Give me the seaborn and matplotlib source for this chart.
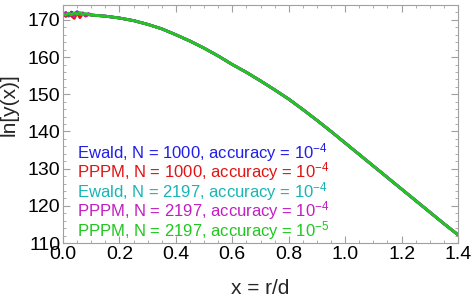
import numpy as np
import pandas as pd
import matplotlib
matplotlib.use("Agg")
import matplotlib.pyplot as plt
from matplotlib.ticker import MultipleLocator
import seaborn as sns

# noisy start of each run (x <= 0.1)
x_head = [0.00, 0.01, 0.02, 0.03, 0.04, 0.05, 0.06, 0.07, 0.08, 0.09, 0.10]
ewald_1000_head = [171.2, 171.9, 171.0, 172.1, 171.4, 172.2, 171.3, 171.8, 171.2, 171.6, 171.3]
pppm_1000_head = [171.8, 170.9, 171.6, 171.1, 170.4, 171.9, 170.6, 171.7, 171.0, 171.4, 171.3]
ewald_2197_head = [171.4, 171.7, 171.2, 171.8, 171.5, 171.9, 171.4, 171.6, 171.3, 171.5, 171.3]
pppm_2197_head = [171.0, 172.0, 171.3, 171.9, 170.9, 172.1, 171.5, 171.9, 171.1, 171.7, 171.3]
pppm_2197_5_head = [171.6, 171.3, 171.8, 171.4, 171.9, 171.5, 172.0, 171.4, 171.7, 171.5, 171.3]

# shared smooth part (all runs coincide here)
x_tail = [0.15, 0.20, 0.25, 0.30, 0.35, 0.40, 0.45, 0.50, 0.55, 0.60, 0.65,
          0.70, 0.75, 0.80, 0.85, 0.90, 0.95, 1.00, 1.05, 1.10, 1.15, 1.20,
          1.25, 1.30, 1.35, 1.40]
y_tail = [171.0, 170.5, 169.8, 168.8, 167.6, 166.0, 164.3, 162.4, 160.3, 158.0,
          155.9, 153.6, 151.2, 148.7, 145.9, 143.0, 140.0, 136.9, 133.8, 130.7,
          127.6, 124.5, 121.4, 118.3, 115.2, 112.2]

labels = [
    "Ewald, N = 1000, accuracy = $10^{-4}$",
    "PPPM, N = 1000, accuracy = $10^{-4}$",
    "Ewald, N = 2197, accuracy = $10^{-4}$",
    "PPPM, N = 2197, accuracy = $10^{-4}$",
    "PPPM, N = 2197, accuracy = $10^{-5}$",
]
colors = ["#1f1fe6", "#e01414", "#1ab4b4", "#c21ec2", "#1ec81e"]
heads = [ewald_1000_head, pppm_1000_head, ewald_2197_head, pppm_2197_head, pppm_2197_5_head]

rows = []
for lab, head in zip(labels, heads):
    for xv, yv in zip(x_head + x_tail, head + y_tail):
        rows.append({"x": xv, "y": yv, "run": lab})
df = pd.DataFrame(rows)

sns.set_theme(style="ticks")
plt.rcParams["font.family"] = ["Liberation Sans", "DejaVu Sans"]
plt.rcParams["mathtext.default"] = "regular"

fig = plt.figure(figsize=(4.71, 2.97), dpi=100)
ax = fig.add_axes([63 / 471, 1 - 243 / 297, 395 / 471, 238 / 297])

sns.lineplot(data=df, x="x", y="y", hue="run", palette=colors, hue_order=labels,
             sort=False, estimator=None, linewidth=2.0, ax=ax)

ax.set_xlim(0, 1.4)
ax.set_ylim(110, 174)
ax.xaxis.set_major_locator(MultipleLocator(0.2))
ax.xaxis.set_minor_locator(MultipleLocator(0.05))
ax.yaxis.set_major_locator(MultipleLocator(10))
ax.yaxis.set_minor_locator(MultipleLocator(2))
ax.xaxis.set_major_formatter(plt.FuncFormatter(lambda v, p: f"{v:.1f}"))

frame = "#a0a0a0"
for s in ax.spines.values():
    s.set_color(frame)
    s.set_linewidth(0.8)
ax.tick_params(which="both", direction="in", top=True, right=True, color=frame,
               labelsize=14, labelcolor="black")
ax.tick_params(which="major", length=5, width=0.8, pad=2)
ax.tick_params(which="minor", length=2.5, width=0.6)

ax.set_xlabel("x = r/d", fontsize=15)
ax.xaxis.set_label_coords(0.5, -0.15)
ax.set_ylabel("ln[y(x)]", fontsize=15)
ax.yaxis.set_label_coords(-0.112, 0.58)

handles, labs = ax.get_legend_handles_labels()
ax.legend(handles, labs, loc="lower left", bbox_to_anchor=(0.035, 0.005),
          frameon=False, handlelength=0, handletextpad=0, borderpad=0,
          borderaxespad=0, labelspacing=-0.2, fontsize=12, labelcolor=colors)

fig.savefig("out.png", dpi=100)
